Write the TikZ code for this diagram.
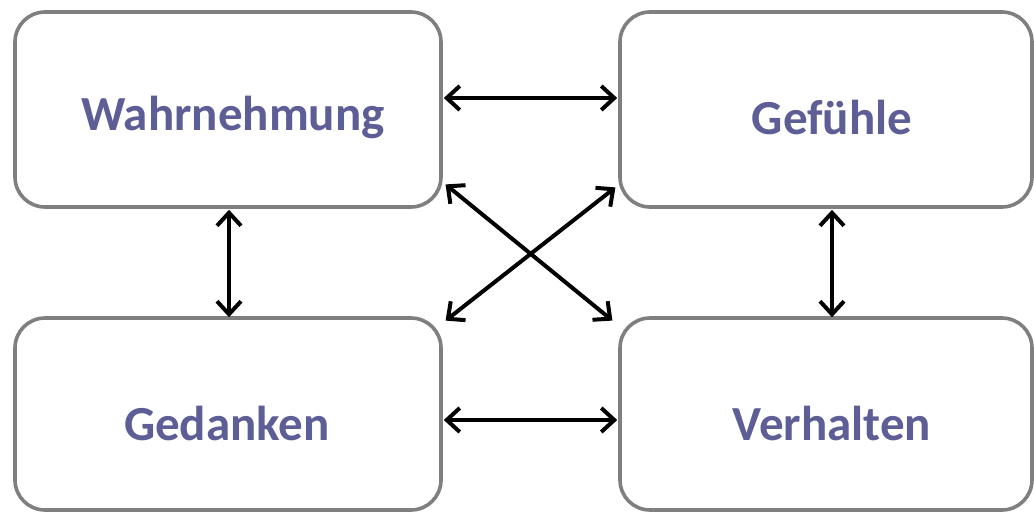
\documentclass[tikz,border=0pt]{standalone}
\usepackage{fontspec}
\setmainfont{Carlito}
\usetikzlibrary{arrows.meta}
\definecolor{txt}{HTML}{5E5E96}
\definecolor{bord}{HTML}{7F7F7F}
\tikzset{
  box/.style={draw=bord, line width=1.8pt, rounded corners=15pt, fill=white, inner sep=0pt},
  lbl/.style={text=txt, font=\bfseries\fontsize{24.5pt}{29pt}\selectfont, inner sep=0pt},
  arr/.style={line width=2pt, black, {Straight Barb[length=6.5pt,width=12pt,line width=2pt]}-{Straight Barb[length=6.5pt,width=12pt,line width=2pt]}, shorten <=0.5pt, shorten >=0.5pt}
}
\begin{document}
\begin{tikzpicture}[x=0.5pt,y=-0.5pt]
\useasboundingbox (0,0) rectangle (1034,514);
% boxes
\node[box, minimum width=213pt, minimum height=97.5pt] (tl) at (228,109.5) {};
\node[box, minimum width=206pt, minimum height=97.5pt] (tr) at (826,109.5) {};
\node[box, minimum width=213pt, minimum height=96pt] (bl) at (228,414) {};
\node[box, minimum width=206pt, minimum height=96pt] (br) at (826,414) {};
% labels
\node[lbl] (ltl) at (233,117) {Wahrnehmung};
\node[lbl] (ltr) at (832,117) {Gefühle};
\node[lbl] (lbl) at (227,423) {Gedanken};
\node[lbl] (lbr) at (832,423) {Verhalten};
% connectors
\draw[arr] ([yshift=5.75pt]tl.east) -- ([yshift=5.75pt]tr.west);
\draw[arr] ([yshift=-3pt]bl.east) -- ([yshift=-3pt]br.west);
\draw[arr] ([xshift=0.5pt]tl.south) -- ([xshift=0.5pt,yshift=-1pt]bl.north);
\draw[arr] ([xshift=3pt]tr.south) -- ([xshift=3pt,yshift=-1pt]br.north);
\draw[arr] ([xshift=1pt,yshift=12.5pt]tl.south east) -- ([xshift=-2.5pt,yshift=-2.5pt]br.north west);
\draw[arr] ([xshift=-1pt,yshift=11pt]tr.south west) -- ([xshift=1pt,yshift=-2.5pt]bl.north east);
\end{tikzpicture}
\end{document}
